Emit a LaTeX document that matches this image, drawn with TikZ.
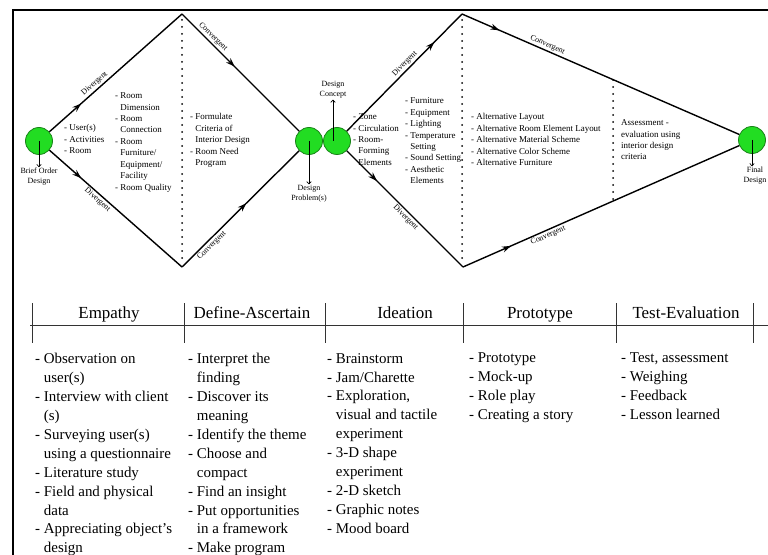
\documentclass[tikz,border=0pt]{standalone}
\usepackage{fontspec}
\setmainfont{Liberation Serif}
\usetikzlibrary{positioning,arrows.meta,decorations.markings}
\definecolor{stagegreen}{RGB}{34,221,34}
\definecolor{stageedge}{RGB}{24,130,24}
\newcommand{\listindent}{\hphantom{- }}
\tikzset{
  stage/.style={circle,fill=stagegreen,draw=stageedge,line width=0.8bp,minimum size=27bp,inner sep=0pt},
  flow/.style={line width=1.4bp},
  arrowat/.style={postaction={decorate},decoration={markings,mark=at position #1 with {\arrow{Stealth[length=9bp,width=6bp]}}}},
  phase/.style={font=\fontsize{8}{9}\selectfont,sloped,inner sep=1.5bp},
  smalllist/.style={anchor=north west,align=left,inner sep=0pt,font=\fontsize{9}{11.5}\selectfont},
  steplabel/.style={align=center,inner sep=1pt,font=\fontsize{8}{10}\selectfont},
  pointer/.style={line width=0.7bp,-{To[length=3bp,width=5bp]}},
  head/.style={anchor=base,font=\fontsize{17}{20}\selectfont},
  biglist/.style={anchor=north west,align=left,inner sep=0pt,font=\fontsize{15}{19}\selectfont},
  sepline/.style={dash pattern=on 0pt off 7bp,line cap=round,line width=2bp}
}
\begin{document}
\begin{tikzpicture}[x=1bp,y=-1bp]
\useasboundingbox (0,0) rectangle (768,555);
%frame
\draw[line width=1.5bp] (13,555) -- (13,10) -- (768,10);
%
%turning points
\coordinate (t1) at (182,14);
\coordinate (b1) at (182,267);
\coordinate (t2) at (462,14);
\coordinate (b2) at (463,267);
%
%dotted separators
\draw[sepline] (182,20) -- (182,264);
\draw[sepline] (462,20) -- (462,264);
\draw[sepline] (613,80) -- (613,200);
%
%stages
\node[stage] (brief) at (39,141) {};
\node[stage] (problem) at (309,141) {};
\node[stage] (concept) at (337,141) {};
\node[stage] (final) at (752,140) {};
%
%first diamond
\draw[flow,arrowat=0.24] (brief) -- node[phase,pos=0.37,above] {Divergent} (t1);
\draw[flow,arrowat=0.24] (brief) -- node[phase,pos=0.39,below] {Divergent} (b1);
\draw[flow,arrowat=0.45] (t1) -- node[phase,pos=0.23,above] {Convergent} (problem);
\draw[flow,arrowat=0.55] (b1) -- node[phase,pos=0.22,below] {Convergent} (problem);
%
%second diamond
\draw[flow,arrowat=0.76] (concept) -- node[phase,pos=0.54,above] {Divergent} (t2);
\draw[flow,arrowat=0.26] (concept) -- node[phase,pos=0.54,below] {Divergent} (b2);
\draw[flow,arrowat=0.135] (t2) -- node[phase,pos=0.30,above] {Convergent} (final);
\draw[flow,arrowat=0.174] (b2) -- node[phase,pos=0.30,below] {Convergent} (final);
%
%stage labels
\node[steplabel] (brieftxt) at (39,177) {Brief Order\\Design};
\node[steplabel] (problemtxt) at (309,194) {Design\\Problem(s)};
\node[steplabel] (concepttxt) at (333,90) {Design\\Concept};
\node[steplabel] (finaltxt) at (755,176) {Final\\Design};
\draw[pointer] (brief.center) -- (brieftxt.north);
\draw[pointer] (problem.center) -- (problemtxt.north);
\draw[pointer] (concepttxt.south |- concept.center) -- (concepttxt.south);
\draw[pointer] (final.center) -- (final.center |- finaltxt.north);
%
%lists in the diagram
\node[smalllist] (userlist) at (64,124.5) {- User(s)\\- Activities\\- Room};
\node[smalllist] (roomlist) at (115,92.5) {- Room\\\listindent Dimension\\- Room\\\listindent Connection\\- Room\\\listindent Furniture/\\\listindent Equipment/\\\listindent Facility\\- Room Quality};
\node[smalllist] (criterialist) at (190,113.5) {- Formulate\\\listindent Criteria of\\\listindent Interior Design\\- Room Need\\\listindent Program};
\node[smalllist] (zonelist) at (353,113.5) {- Zone\\- Circulation\\- Room-\\\listindent Forming\\\listindent Elements};
\node[smalllist] (elementlist) at (405,97.5) {- Furniture\\- Equipment\\- Lighting\\- Temperature\\\listindent Setting\\- Sound Setting\\- Aesthetic\\\listindent Elements};
\node[smalllist] (altlist) at (471,113.5) {- Alternative Layout\\- Alternative Room Element Layout\\- Alternative Material Scheme\\- Alternative Color Scheme\\- Alternative Furniture};
\node[smalllist] (assesslist) at (621,119.5) {Assessment -\\evaluation using\\interior design\\criteria};
%
%table
\draw[line width=1bp,black!80] (30,325) -- (768,325);
\foreach \x in {32,184,325,463,616,753}
  \draw[line width=1bp,black!80] (\x,303) -- (\x,343);
\node[head] (empathy) at (109,318) {Empathy};
\node[head] (define) at (252,318) {Define-Ascertain};
\node[head] (ideation) at (405,318) {Ideation};
\node[head] (prototype) at (540,318) {Prototype};
\node[head] (test) at (686,318) {Test-Evaluation};
%
\node[biglist] (empathylist) at (35,353) {- Observation on\\\listindent user(s)\\- Interview with client\\\listindent (s)\\- Surveying user(s)\\\listindent using a questionnaire\\- Literature study\\- Field and physical\\\listindent data\\- Appreciating object's\\\listindent design};
\node[biglist] (definelist) at (188,353) {- Interpret the\\\listindent finding\\- Discover its\\\listindent meaning\\- Identify the theme\\- Choose and\\\listindent compact\\- Find an insight\\- Put opportunities\\\listindent in a framework\\- Make program};
\node[biglist] (ideationlist) at (327,353) {- Brainstorm\\- Jam/Charette\\- Exploration,\\\listindent visual and tactile\\\listindent experiment\\- 3-D shape\\\listindent experiment\\- 2-D sketch\\- Graphic notes\\- Mood board};
\node[biglist] (prototypelist) at (469,353) {- Prototype\\- Mock-up\\- Role play\\- Creating a story};
\node[biglist] (testlist) at (621,353) {- Test, assessment\\- Weighing\\- Feedback\\- Lesson learned};
\end{tikzpicture}
\end{document}
